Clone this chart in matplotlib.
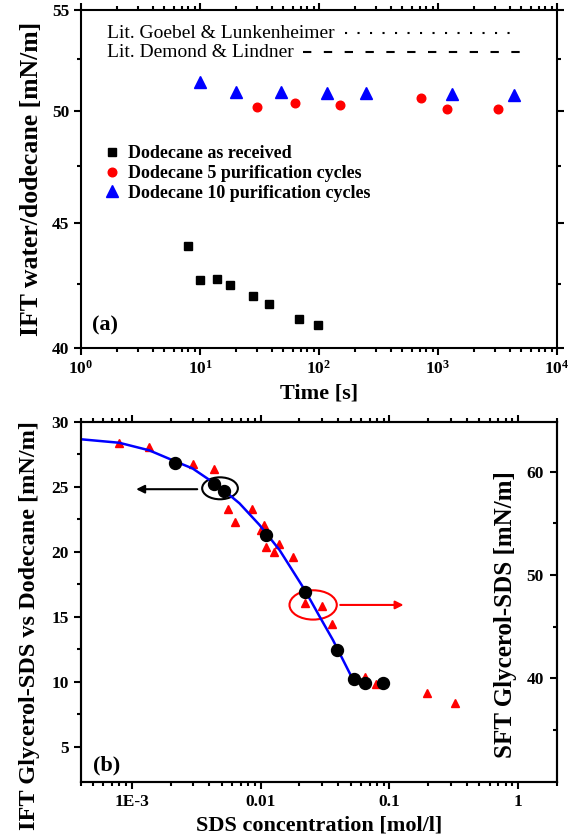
import numpy as np
import matplotlib
matplotlib.use("Agg")
import matplotlib.pyplot as plt
from matplotlib.patches import Ellipse
from matplotlib.ticker import FixedLocator, NullFormatter, FixedFormatter

plt.rcParams['font.family'] = 'Liberation Serif'
plt.rcParams['font.weight'] = 'bold'
plt.rcParams['axes.labelweight'] = 'bold'
plt.rcParams['mathtext.fontset'] = 'custom'
plt.rcParams['mathtext.rm'] = 'Liberation Serif:bold'
plt.rcParams['mathtext.bf'] = 'Liberation Serif:bold'
plt.rcParams['axes.linewidth'] = 1.5

# ---- panel (a): IFT water/dodecane vs time
t_raw = [8.0, 10.0, 13.9, 18.0, 27.9, 37.8, 67.9, 97.5]
ift_raw = [44.03, 42.66, 42.68, 42.45, 41.99, 41.69, 41.12, 40.89]
t_5 = [30.1, 62.5, 150, 720, 1197, 3194]
ift_5 = [50.22, 50.37, 50.30, 50.64, 50.12, 50.08]
t_10 = [10.0, 20.1, 47.9, 117.5, 248, 1303, 4352]
ift_10 = [51.39, 50.93, 50.90, 50.86, 50.88, 50.83, 50.79]
lit_names = ['Lit. Goebel & Lunkenheimer', 'Lit. Demond & Lindner']
lit_values = [53.83, 52.85]
lit_tspan = [(165, 4436), (73.4, 5598)]

# ---- panel (b): Glycerol-SDS
c_ift = [2.17e-3, 4.35e-3, 5.2e-3, 0.0109, 0.0220, 0.0389, 0.0527, 0.065, 0.0883]
ift_gly = [26.85, 25.21, 24.65, 21.31, 16.9, 12.42, 10.18, 9.88, 9.88]
c_fit = [4e-4, 7.96e-4, 1.36e-3, 2.17e-3, 2.96e-3, 4.78e-3, 6.84e-3, 9.8e-3,
         0.014, 0.022, 0.0287, 0.0364, 0.0491, 0.051]
ift_fit = [28.65, 28.38, 27.8, 26.95, 26.4, 25.0, 23.72, 22.05,
           20.13, 17.05, 15.0, 13.2, 10.65, 10.3]
c_sft = [7.96e-4, 1.35e-3, 2.96e-3, 4.30e-3, 5.54e-3, 8.59e-3, 6.34e-3, 0.0106,
         0.0101, 0.011, 0.0138, 0.0126, 0.0178, 0.022, 0.0297, 0.036, 0.0643,
         0.079, 0.194, 0.321]
sft_gly = [62.75, 62.42, 60.72, 60.23, 56.36, 56.36, 55.16, 54.84,
           54.36, 52.74, 53.0, 52.26, 51.77, 47.26, 47.0, 45.26, 40.1,
           39.45, 38.55, 37.64]

fig = plt.figure(figsize=(5.75, 8.38), dpi=100)
W, H = 575.0, 838.0


def bold_ticks(ax):
    for lab in ax.get_xticklabels() + ax.get_yticklabels():
        lab.set_fontweight('bold')


# ================= (a)
ax1 = fig.add_axes([81 / W, (H - 348) / H, 476 / W, 338 / H])
ax1.plot(t_raw, ift_raw, 's', color='black', ms=5.5, ls='none', label='Dodecane as received')
ax1.plot(t_5, ift_5, 'o', color='red', ms=6.2, ls='none', label='Dodecane 5 purification cycles')
ax1.plot(t_10, ift_10, '^', color='blue', ms=8, ls='none', label='Dodecane 10 purification cycles')
ax1.hlines(lit_values[0], *lit_tspan[0], colors='black', lw=1.5, linestyles=(0, (1, 5)))
ax1.hlines(lit_values[1], *lit_tspan[1], colors='black', lw=1.5, linestyles=(0, (4, 6)))
ax1.set_xscale('log')
ax1.set_yscale('log')
ax1.set_xlim(1, 1e4)
ax1.set_ylim(40, 55)
ax1.xaxis.set_major_locator(FixedLocator([1, 10, 100, 1000, 10000]))
ax1.xaxis.set_major_formatter(FixedFormatter([r'$\mathrm{10^{%d}}$' % i for i in range(5)]))
ax1.xaxis.set_minor_locator(FixedLocator([m * 10 ** d for d in range(4) for m in range(2, 10)]))
ax1.xaxis.set_minor_formatter(NullFormatter())
ax1.yaxis.set_major_locator(FixedLocator([40, 45, 50, 55]))
ax1.yaxis.set_major_formatter(FixedFormatter(['40', '45', '50', '55']))
ax1.yaxis.set_minor_locator(FixedLocator([42.5, 47.5, 52.5]))
ax1.yaxis.set_minor_formatter(NullFormatter())
ax1.tick_params(which='both', direction='out', top=True, right=True, labelsize=12.5, width=1.5)
ax1.tick_params(which='major', length=5)
ax1.tick_params(which='minor', length=3)
ax1.set_xlabel('Time [s]', fontsize=16, labelpad=4)
ax1.set_ylabel('IFT water/dodecane [mN/m]', fontsize=18.5, labelpad=6)
bold_ticks(ax1)

for name, v, y in zip(lit_names, lit_values, [0.93, 0.875]):
    ax1.text(0.055, y, name, transform=ax1.transAxes, fontsize=14, fontweight='normal',
             ha='left', va='center')

ax1.legend(loc='center left', bbox_to_anchor=(0.05, 0.516), frameon=False,
           prop={'size': 13, 'weight': 'bold'},
           handlelength=0.8, handletextpad=0.5, labelspacing=0.15, borderpad=0,
           borderaxespad=0, numpoints=1)
ax1.text(0.023, 0.068, '(a)', transform=ax1.transAxes, fontsize=16, ha='left', va='center')

# ================= (b)
ax2 = fig.add_axes([80.7 / W, (H - 781.7) / H, 476.3 / W, 360 / H])
ax3 = ax2.twinx()
ax3.plot(c_sft, sft_gly, '^', color='red', ms=6, ls='none', zorder=1)
ax2.plot(c_fit, ift_fit, '-', color='blue', lw=1.8, zorder=2)
ax2.plot(c_ift, ift_gly, 'o', color='black', ms=8.6, ls='none', zorder=3)
ax2.set_zorder(ax3.get_zorder() + 1)
ax2.patch.set_visible(False)

ax2.set_xscale('log')
ax2.set_xlim(4e-4, 2)
ax2.set_ylim(2.3, 30)
ax3.set_ylim(30, 64.85)
ax2.xaxis.set_major_locator(FixedLocator([1e-3, 1e-2, 0.1, 1]))
ax2.xaxis.set_major_formatter(FixedFormatter(['1E-3', '0.01', '0.1', '1']))
ax2.xaxis.set_minor_locator(FixedLocator([m * 10.0 ** d for d in range(-4, 1) for m in range(2, 10)]))
ax2.xaxis.set_minor_formatter(NullFormatter())
ax2.yaxis.set_major_locator(FixedLocator([5, 10, 15, 20, 25, 30]))
ax2.yaxis.set_minor_locator(FixedLocator([7.5, 12.5, 17.5, 22.5, 27.5]))
ax2.tick_params(which='both', direction='out', top=True, labelsize=12.5, width=1.5)
ax2.tick_params(which='major', length=5)
ax2.tick_params(which='minor', length=3)
ax2.set_xlabel('SDS concentration [mol/l]', fontsize=16, labelpad=4)
ax2.set_ylabel('IFT Glycerol-SDS vs Dodecane [mN/m]', fontsize=17.5)
ax2.yaxis.set_label_coords(-0.085, 0.435)
bold_ticks(ax2)

ax3.yaxis.set_major_locator(FixedLocator([40, 50, 60]))
ax3.yaxis.set_minor_locator(FixedLocator([35, 45, 55]))
ax3.yaxis.set_minor_formatter(NullFormatter())
ax3.tick_params(axis='y', which='both', direction='in', labelsize=12.5, width=1.5, pad=-22)
ax3.tick_params(axis='y', which='major', length=5)
ax3.tick_params(axis='y', which='minor', length=3)
bold_ticks(ax3)
ax3.text(0.891, 0.465, 'SFT Glycerol-SDS [mN/m]', transform=ax3.transAxes, rotation=90,
         fontsize=18, ha='center', va='center')

ax2.add_patch(Ellipse((0.2925, 0.815), 0.075, 0.061, transform=ax2.transAxes,
                      fill=False, ec='black', lw=1.5))
ax2.annotate('', xy=(0.1106, 0.8125), xytext=(0.2505, 0.8125), xycoords='axes fraction',
             arrowprops=dict(arrowstyle='-|>', color='black', lw=1.5, mutation_scale=12))
ax2.add_patch(Ellipse((0.488, 0.491), 0.0993, 0.0814, transform=ax2.transAxes,
                      fill=False, ec='red', lw=1.5))
ax2.annotate('', xy=(0.6837, 0.491), xytext=(0.539, 0.491), xycoords='axes fraction',
             arrowprops=dict(arrowstyle='-|>', color='red', lw=1.5, mutation_scale=12))
ax2.text(0.026, 0.044, '(b)', transform=ax2.transAxes, fontsize=16, ha='left', va='center')

fig.savefig('out.png', dpi=100)
